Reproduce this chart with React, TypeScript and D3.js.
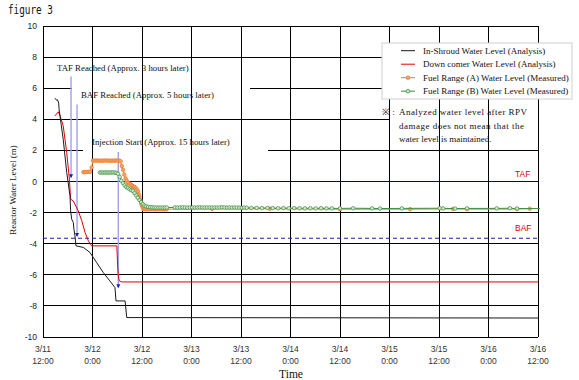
import React from "react";
import * as d3 from "d3";

// ---- data (hours after 3/11 12:00, water level in m) ----
const xTickHours = [0, 12, 24, 36, 48, 60, 72, 84, 96, 108, 120];
const xTickDay = ["3/11", "3/12", "3/12", "3/13", "3/13", "3/14", "3/14", "3/15", "3/15", "3/16", "3/16"];
const xTickClock = ["12:00", "0:00", "12:00", "0:00", "12:00", "0:00", "12:00", "0:00", "12:00", "0:00", "12:00"];
const yTicks = [-10, -8, -6, -4, -2, 0, 2, 4, 6, 8, 10];

const inShroudT = [2.9, 3.3, 3.5, 3.8, 3.9, 4.4, 4.9, 5.75, 6.55, 6.7, 6.95, 7.35, 7.5, 7.75, 8.0, 9.8, 11.4, 13.0, 14.6, 16.2, 17.45, 17.7, 19.9, 20.3, 120];
const inShroudV = [5.36, 5.23, 5.26, 5.04, 4.65, 3.68, 2.72, 0.58, -0.93, -1.89, -2.42, -2.64, -3.07, -3.5, -4.14, -4.24, -4.57, -5.21, -5.85, -6.39, -6.82, -7.68, -7.68, -8.75, -8.78];

const downT = [2.9, 3.7, 4.1, 4.9, 5.75, 6.4, 6.7, 7.35, 8.55, 9.4, 10.2, 11.0, 11.8, 17.9, 18.1, 18.25, 18.5, 19.1, 120];
const downV = [4.22, 4.48, 4.26, 3.58, 1.86, 0.15, -1.14, -1.25, -1.89, -2.53, -3.28, -3.82, -4.14, -4.14, -5.43, -6.07, -6.39, -6.46, -6.46];

const fuelAT = [
  9.8, 10.2, 10.6, 11.0, 11.4, 11.8, 12.1, 12.5, 12.9, 13.3, 13.7, 14.1, 14.5, 14.9, 15.3, 15.7, 16.1, 16.5, 16.9, 17.3, 17.7, 18.1, 18.5, 18.8,
  19.1, 19.4, 19.7, 20.0, 20.3, 20.6, 20.9, 21.2, 21.5, 21.8, 22.1, 22.4, 22.7, 23.0, 23.2, 23.4, 23.6, 23.8, 24.0, 24.2, 24.4,
  24.8, 25.2, 25.6, 26.0, 26.4, 26.8, 27.2, 27.6, 28.0, 28.4, 28.8, 29.2, 29.6, 30.0,
  41.0, 55.0, 72.0, 89.0, 99.4, 102.8, 114.9, 118.0,
];
const fuelAV = [
  0.6, 0.6, 0.61, 0.62, 0.62, 0.9, 1.34, 1.34, 1.35, 1.34, 1.34, 1.33, 1.34, 1.34, 1.35, 1.34, 1.34, 1.33, 1.34, 1.34, 1.35, 1.34, 1.34, 1.3,
  1.0, 0.75, 0.45, 0.2, 0.05, -0.08, -0.13, -0.18, -0.24, -0.3, -0.35, -0.4, -0.48, -0.62, -0.82, -1.0, -1.2, -1.4, -1.57, -1.7, -1.78,
  -1.78, -1.79, -1.78, -1.78, -1.77, -1.78, -1.79, -1.78, -1.78, -1.77, -1.78, -1.78, -1.79, -1.78,
  -1.76, -1.75, -1.78, -1.78, -1.76, -1.78, -1.77, -1.75,
];

const fuelBT = [
  13.8, 14.2, 14.6, 15.0, 15.4, 15.8, 16.2, 16.6, 17.0, 17.4, 17.8,
  18.2, 18.6, 19.0, 19.4, 19.8, 20.2, 20.6, 21.0, 21.4, 21.8, 22.2, 22.6, 23.0, 23.4, 23.8, 24.2, 24.6, 25.0,
  25.5, 26.0, 26.5, 27.0, 27.5, 28.0, 28.5, 29.0, 29.5, 30.0,
  32.0, 32.6, 33.2, 33.8, 34.4, 35.0, 35.6, 36.2, 36.8, 37.4, 38.0, 38.6, 39.2, 39.8, 40.4, 41.0, 41.6, 42.2, 42.8, 43.4, 44.0, 44.6, 45.2, 45.8, 46.4, 47.0, 47.6, 48.2, 48.8, 49.4,
  50.5, 51.8, 53.1, 54.4, 55.7, 57.0, 58.3, 59.6, 60.9, 62.2, 63.5, 64.8, 66.1, 67.4, 68.7, 70.0,
  72.0, 75.2, 79.8, 81.7, 87.0, 96.2, 97.0, 99.9, 102.8, 110.0, 113.2, 114.9,
];
const fuelBV = [
  0.58, 0.58, 0.57, 0.58, 0.58, 0.57, 0.58, 0.58, 0.58, 0.57, 0.56,
  0.5, 0.3, 0.05, -0.1, -0.25, -0.36, -0.42, -0.5, -0.56, -0.6, -0.75, -0.9, -1.05, -1.2, -1.33, -1.45, -1.55, -1.6,
  -1.63, -1.65, -1.66, -1.67, -1.68, -1.68, -1.67, -1.68, -1.68, -1.67,
  -1.67, -1.68, -1.67, -1.66, -1.67, -1.68, -1.67, -1.67, -1.68, -1.67, -1.66, -1.67, -1.68, -1.67, -1.67, -1.68, -1.67, -1.68, -1.67, -1.66, -1.67, -1.68, -1.67, -1.68, -1.67, -1.68, -1.68, -1.69, -1.68, -1.69,
  -1.7, -1.7, -1.71, -1.7, -1.71, -1.72, -1.71, -1.72, -1.71, -1.72, -1.73, -1.72, -1.73, -1.72, -1.73, -1.73,
  -1.73, -1.72, -1.73, -1.74, -1.73, -1.72, -1.73, -1.74, -1.73, -1.73, -1.72, -1.74,
];
const fuelBLineEnd = 120.5;

const TAF = 0;
const BAF = -3.65;

const arrowT = [6.8, 8.25, 18.25];
const arrowTopV = [6.75, 4.95, 1.9];
const arrowEndV = [0.28, -3.5, -6.8];
const annotationTexts = [
  "TAF Reached (Approx. 3 hours later)",
  "BAF Reached (Approx. 5 hours later)",
  "Injection Start (Approx. 15 hours later)",
];

const legendLabels = [
  "In-Shroud Water Level (Analysis)",
  "Down comer Water Level (Analysis)",
  "Fuel Range (A) Water Level (Measured)",
  "Fuel Range (B) Water Level (Measured)",
];
const noteLines = ["Analyzed water level after RPV", "damage does not mean that the", "water level is maintained."];

// ---- layout ----
const W = 579;
const H = 380;
const L = 43, R = 538, T = 26, B = 337;
const serif = "'Liberation Serif', 'Times New Roman', serif";
const sans = "'Liberation Sans', Arial, sans-serif";

const cBlack = "#1a1a1a";
const cRed = "#e00000";
const cOrange = "#ee7a2a";
const cOrangeFill = "#f5a56a";
const cGreen = "#3d8f3d";
const cGreenFill = "#cfe8cf";
const cNavy = "#000080";

export default function App() {
  const x = d3.scaleLinear().domain([0, 120]).range([L, R]);
  const y = d3.scaleLinear().domain([-10, 10]).range([B, T]);

  const line = d3
    .line<[number, number]>()
    .x((d) => x(d[0]))
    .y((d) => y(d[1]));

  const zip = (a: number[], b: number[]) => a.map((t, i) => [t, b[i]] as [number, number]);
  const inShroud = zip(inShroudT, inShroudV);
  const down = zip(downT, downV);
  const fuelA = zip(fuelAT, fuelAV);
  const fuelB = zip(fuelBT, fuelBV);
  const fuelBLine = [...fuelB, [fuelBLineEnd, fuelBV[fuelBV.length - 1]] as [number, number]];

  // white label boxes that hide parts of horizontal grid lines
  const boxes = [
    { x0: 72, x1: 250, y0: 86, y1: 103 },
    { x0: 83, x1: 268, y0: 133, y1: 152.5 },
    { x0: 390, x1: 541, y0: 104, y1: 146 },
  ];

  const mr = 1.8;

  return (
    <svg width={W} height={H} style={{ position: "absolute", left: 0, top: 0, background: "#fff" }}>
      <text x={8} y={14} fontFamily="'DejaVu Sans Mono', monospace" fontSize={13} textLength={45} lengthAdjust="spacingAndGlyphs" fill="#111">
        figure 3
      </text>

      {/* horizontal grid */}
      <g shapeRendering="crispEdges">
        {yTicks.map((v) => (
          <line key={v} x1={L} x2={R} y1={y(v)} y2={y(v)} stroke={v === TAF ? cNavy : "#000"} strokeWidth={1} />
        ))}
      </g>
      {boxes.map((b, i) => (
        <rect key={i} x={b.x0} y={b.y0} width={b.x1 - b.x0} height={b.y1 - b.y0} fill="#fff" />
      ))}
      <line x1={L} x2={R} y1={y(TAF)} y2={y(TAF)} stroke={cNavy} strokeWidth={1} shapeRendering="crispEdges" />
      {/* vertical grid */}
      <g shapeRendering="crispEdges">
        {xTickHours.map((h) => (
          <line key={h} x1={x(h)} x2={x(h)} y1={T} y2={B} stroke="#000" strokeWidth={1} />
        ))}
        <line x1={L} x2={R} y1={B} y2={B} stroke="#000" />
        <line x1={L} x2={R} y1={T} y2={T} stroke="#000" />
      </g>

      {/* BAF dashed line */}
      <line x1={L} x2={R} y1={y(BAF)} y2={y(BAF)} stroke="#1f1fb0" strokeWidth={1} strokeDasharray="4,3" />
      <text x={515} y={y(TAF) - 5} fontFamily={sans} fontSize={8.5} fill={cRed}>TAF</text>
      <text x={515} y={y(BAF) - 7} fontFamily={sans} fontSize={8.5} fill={cRed}>BAF</text>

      {/* y ticks */}
      {yTicks.map((v) => (
        <text key={v} x={37} y={y(v) + 3} textAnchor="end" fontFamily={sans} fontSize={8.5} fill="#222">
          {v}
        </text>
      ))}
      <text
        transform={`translate(16,190) rotate(-90)`}
        textAnchor="middle"
        fontFamily={serif}
        fontSize={9}
        fill="#111"
      >
        Reactor Water Level (m)
      </text>

      {/* x ticks */}
      {xTickHours.map((h, i) => (
        <g key={h}>
          <text x={x(h)} y={352} textAnchor="middle" fontFamily={sans} fontSize={8.5} fill="#333">
            {xTickDay[i]}
          </text>
          <text x={x(h)} y={364} textAnchor="middle" fontFamily={sans} fontSize={8.5} fill="#333">
            {xTickClock[i]}
          </text>
        </g>
      ))}
      <text x={291} y={378} textAnchor="middle" fontFamily={serif} fontSize={11.5} fill="#111">
        Time
      </text>

      {/* annotation vertical lines */}
      {arrowT.map((t, i) => (
        <g key={i}>
          <line x1={x(t)} x2={x(t)} y1={y(arrowTopV[i])} y2={y(arrowEndV[i])} stroke="#a0a0ee" strokeWidth={1.4} />
          <path
            d={`M${x(t) - 2},${y(arrowEndV[i]) - 3}L${x(t) + 2},${y(arrowEndV[i]) - 3}L${x(t)},${y(arrowEndV[i]) + 1}Z`}
            fill="#1a1acc"
          />
        </g>
      ))}

      {/* measured series */}
      <path d={line(fuelA) || ""} fill="none" stroke={cOrange} strokeWidth={1} />
      {fuelA.map((d, i) => (
        <circle key={i} cx={x(d[0])} cy={y(d[1])} r={mr} fill={cOrangeFill} stroke={cOrange} strokeWidth={0.7} />
      ))}
      <path d={line(fuelBLine) || ""} fill="none" stroke={cGreen} strokeWidth={1} />
      {fuelB.map((d, i) => (
        <circle key={i} cx={x(d[0])} cy={y(d[1])} r={mr} fill={cGreenFill} stroke={cGreen} strokeWidth={0.7} />
      ))}

      {/* analysis series */}
      <path d={line(down) || ""} fill="none" stroke={cRed} strokeWidth={1} />
      <path d={line(inShroud) || ""} fill="none" stroke={cBlack} strokeWidth={1} />

      {/* annotation texts */}
      <text x={57} y={71} fontFamily={serif} fontSize={8.8} fill="#111">{annotationTexts[0]}</text>
      <text x={81} y={98} fontFamily={serif} fontSize={8.8} fill="#111">{annotationTexts[1]}</text>
      <text x={92} y={145} fontFamily={serif} fontSize={8.8} fill="#111">{annotationTexts[2]}</text>

      {/* note */}
      <text x={382} y={115} fontFamily={serif} fontSize={9} fill="#111">※ :</text>
      <text x={399} y={115} fontFamily={serif} fontSize={9} fill="#111" textLength={128} lengthAdjust="spacing">{noteLines[0]}</text>
      <text x={399} y={128.5} fontFamily={serif} fontSize={9} fill="#111" textLength={125} lengthAdjust="spacing">{noteLines[1]}</text>
      <text x={399} y={142} fontFamily={serif} fontSize={9} fill="#111">{noteLines[2]}</text>

      {/* legend */}
      <rect x={382} y={43} width={190} height={56} fill="#fff" stroke="#cfcfcf" strokeWidth={1} />
      {legendLabels.map((lab, i) => {
        const cy = 50.7 + i * 13.5;
        const col = [cBlack, cRed, cOrange, cGreen][i];
        return (
          <g key={i}>
            <line x1={401} x2={415} y1={cy} y2={cy} stroke={col} strokeWidth={1} />
            {i >= 2 && (
              <circle cx={408} cy={cy} r={1.8} fill={i === 2 ? cOrangeFill : cGreenFill} stroke={col} strokeWidth={0.8} />
            )}
            <text x={423} y={cy + 3} fontFamily={serif} fontSize={9} fill="#111">{lab}</text>
          </g>
        );
      })}
    </svg>
  );
}
